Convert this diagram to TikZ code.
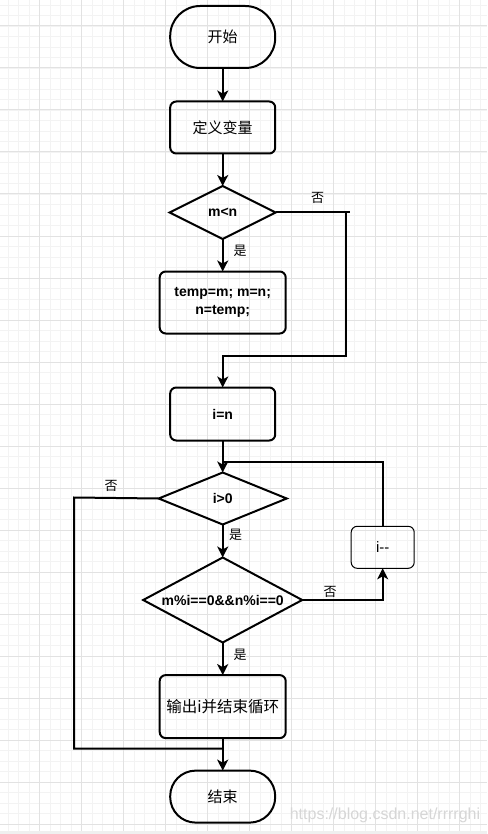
\documentclass[tikz,border=0pt]{standalone}
\usepackage{fontspec}
\setmainfont{Liberation Sans}
\newfontfamily\cjk{Noto Sans CJK SC}
\usetikzlibrary{shapes.geometric,arrows.meta}
\definecolor{gminor}{HTML}{F3F3F3}
\definecolor{gmajor}{HTML}{E2E2E2}
\definecolor{strip}{HTML}{EFEFEF}
\definecolor{wmark}{HTML}{D6D6D6}
\begin{document}
\begin{tikzpicture}[x=1pt,y=-1pt,
  every node/.style={inner sep=0pt, outer sep=0pt},
  minorline/.style={draw=gminor, line width=0.8pt},
  majorline/.style={draw=gmajor, line width=1pt},
  box/.style={draw, line width=2pt, rounded corners=6pt, align=center},
  term/.style={draw, line width=2pt},
  dec/.style={draw, diamond, aspect=2, line width=2pt, inner sep=0pt},
  flow/.style={line width=2pt, -{Stealth[length=11pt,width=11pt,inset=3pt]}},
  link/.style={line width=2pt},
  lab/.style={font=\cjk\fontsize{13}{13}\selectfont},
  cn/.style={font=\cjk\fontsize{15}{15}\selectfont},
  en/.style={font=\bfseries\fontsize{14}{18}\selectfont},
]
\useasboundingbox (0,0) rectangle (487,834);
\fill[white] (0,0) rectangle (487,834);
% grid
\foreach \i in {0,...,47} { \draw[minorline] ({-2.5+10.5*\i},0) -- ({-2.5+10.5*\i},834); }
\foreach \i in {0,...,80} { \draw[minorline] (0,{-5.5+10.5*\i}) -- (487,{-5.5+10.5*\i}); }
\foreach \i in {0,...,11} { \draw[majorline] ({39.5+42*\i},0) -- ({39.5+42*\i},834); }
\foreach \i in {0,...,19} { \draw[majorline] (0,{26+42*\i}) -- (487,{26+42*\i}); }
\fill[strip] (0,831) rectangle (487,834);

% nodes
\node[term, rounded corners=30pt, minimum width=105pt, minimum height=62pt, cn] (start) at (222.7,37) {开始};
\node[box, minimum width=105pt, minimum height=52pt, cn] (def) at (222.7,127.5) {定义变量};
\node[dec, minimum width=106pt, minimum height=53pt, en] (d1) at (222.7,212.5) {m<n};
\node[box, minimum width=126pt, minimum height=62pt, en] (tmp) at (222.7,302.5) {temp=m; m=n;\\n=temp;};
\node[box, minimum width=105pt, minimum height=53pt, en] (iset) at (222.7,414) {i=n};
\node[dec, minimum width=128pt, minimum height=52pt, en] (d2) at (222.7,498.5) {i>0};
\node[dec, minimum width=159pt, minimum height=85pt, en] (d3) at (222.7,600) {m\%i==0\&\&n\%i==0};
\node[draw, line width=1pt, rounded corners=6pt, minimum width=63pt, minimum height=42pt, font=\fontsize{15}{15}\selectfont] (idec) at (382.7,547.3) {i-{}-};
\node[box, minimum width=126pt, minimum height=63pt, font=\cjk\fontsize{15.5}{15.5}\selectfont] (out) at (222.7,706.6) {输出i并结束循环};
\node[term, rounded corners=25.5pt, minimum width=105pt, minimum height=52pt, cn] (end) at (222.7,796.6) {结束};

% labels
\node[lab] (no1) at (317.5,197.5) {否};
\node[lab] (yes1) at (240,251) {是};
\node[lab] (no2) at (111,485.5) {否};
\node[lab] (yes2) at (235.5,535) {是};
\node[lab] (no3) at (330,592) {否};
\node[lab] (yes3) at (240,655) {是};

% coordinates
\coordinate (n0) at (349.5,212.5);
\coordinate (n1) at (346,212.5);
\coordinate (n2) at (346,355.7);
\coordinate (l2) at (222.7,462.3);
\coordinate (m1) at (74,497.5);
\coordinate (m2) at (74,748.7);
\coordinate (m3) at (222.7,748.7);

% connectors
\draw[flow] (start) -- (def);
\draw[flow] (def) -- (d1);
\draw[flow] (d1) -- (tmp);
\draw[link] (d1.east) -- (n0);
\draw[flow] (n1) -- (n2) -| (iset.north);
\draw[flow] (iset) -- (d2);
\draw[link] (idec.north) |- (l2);
\draw[flow] (d2) -- (d3);
\draw[link] (d2.west) -- (m1) -- (m2) -- (m3);
\draw[flow] (d3.east) -| (idec.south);
\draw[flow] (d3) -- (out);
\draw[flow] (out) -- (end);

% watermark
\node[text=wmark, font=\fontsize{16}{16}\selectfont] (wm) at (385,815) {https://blog.csdn.net/rrrrghi};
\end{tikzpicture}
\end{document}
